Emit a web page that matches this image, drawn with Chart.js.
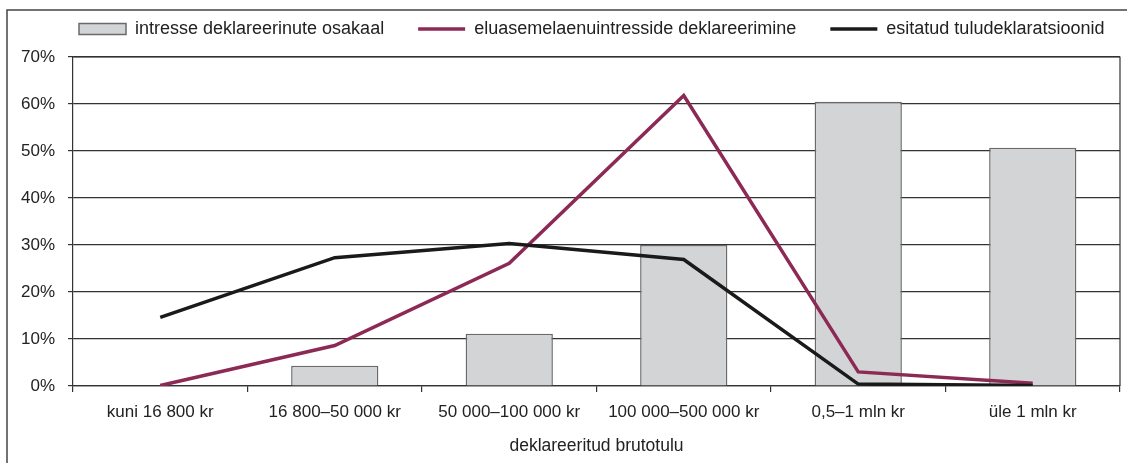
<!DOCTYPE html>
<html>
<head>
<meta charset="utf-8">
<script src="https://cdn.jsdelivr.net/npm/chart.js@4/dist/chart.umd.min.js"></script>
<style>
  html, body { margin: 0; padding: 0; background: #fff; }
  #wrap { width: 1127px; height: 463px; }
</style>
</head>
<body>
<div id="wrap"><canvas id="chart" width="1127" height="463"></canvas></div>
<script>
const categories = ['kuni 16 800 kr', '16 800–50 000 kr', '50 000–100 000 kr', '100 000–500 000 kr', '0,5–1 mln kr', 'üle 1 mln kr'];
const interestShare = [0, 4.3, 11.1, 30.0, 60.5, 50.7];
const mortgageDeclared = [0.1, 8.6, 26.1, 61.8, 3.0, 0.6];
const submittedReturns = [14.6, 27.3, 30.3, 26.9, 0.4, 0.1];
const yTicks = [0, 10, 20, 30, 40, 50, 60, 70];

const FONT = 'Arial, "Liberation Sans", sans-serif';
Chart.defaults.font.family = FONT;
Chart.defaults.font.size = 17;
Chart.defaults.color = '#222';

// frame around the picture + top/right border of plot area
const framePlugin = {
  id: 'frame',
  afterDraw(chart) {
    const ctx = chart.ctx;
    const a = chart.chartArea;
    ctx.save();
    ctx.strokeStyle = '#444';
    ctx.lineWidth = 1.5;
    ctx.beginPath();
    ctx.moveTo(7, 463);
    ctx.lineTo(7, 10);
    ctx.lineTo(1127, 10);
    ctx.stroke();
    ctx.lineWidth = 1.2;
    ctx.strokeStyle = '#333';
    ctx.beginPath();
    ctx.moveTo(a.left, a.top);
    ctx.lineTo(a.right, a.top);
    ctx.lineTo(a.right, a.bottom);
    ctx.stroke();
    ctx.restore();
  }
};

// fixed legend height, and legend row starting at x=79 like the original
const legendTweak = {
  id: 'legendTweak',
  beforeInit(chart) {
    const fit = chart.legend.fit;
    chart.legend.fit = function () {
      fit.bind(chart.legend)();
      this.height = 71;
    };
  },
  afterLayout(chart) {
    const lg = chart.legend;
    const pad = lg.options.labels.padding;
    const start = (lg.left + pad + lg.right - lg.lineWidths[0]) / 2;
    const shift = 79 - start;
    lg.left += shift;
    lg.right += shift;
  }
};

new Chart(document.getElementById('chart'), {
  type: 'bar',
  data: {
    labels: categories,
    datasets: [
      {
        label: 'intresse deklareerinute osakaal',
        data: interestShare,
        backgroundColor: '#d3d4d6',
        borderColor: '#6a6a6a',
        borderWidth: 1.5,
        categoryPercentage: 1,
        barPercentage: 0.5,
        pointStyle: 'rect',
        order: 2
      },
      {
        type: 'line',
        label: 'eluasemelaenuintresside deklareerimine',
        data: mortgageDeclared,
        borderColor: '#8c2a55',
        backgroundColor: '#8c2a55',
        borderWidth: 3.5,
        pointRadius: 0,
        tension: 0,
        pointStyle: 'line',
        order: 1
      },
      {
        type: 'line',
        label: 'esitatud tuludeklaratsioonid',
        data: submittedReturns,
        borderColor: '#1a1a1a',
        backgroundColor: '#1a1a1a',
        borderWidth: 3.5,
        pointRadius: 0,
        tension: 0,
        pointStyle: 'line',
        order: 0
      }
    ]
  },
  options: {
    responsive: false,
    animation: false,
    layout: { padding: { top: -14, right: 7, left: 0, bottom: 0 } },
    plugins: {
      legend: {
        position: 'top',
        labels: {
          usePointStyle: true,
          pointStyleWidth: 47,
          boxHeight: 11,
          padding: 34,
          color: '#222',
          font: { size: 18 },
          sort: (a, b) => a.datasetIndex - b.datasetIndex
        }
      },
      tooltip: { enabled: false }
    },
    scales: {
      x: {
        grid: { offset: true, drawOnChartArea: false, tickLength: 6, color: '#333', lineWidth: 1.2 },
        border: { color: '#333', width: 1.2 },
        ticks: { padding: 10, color: '#222', maxRotation: 0, font: { size: 17 } },
        title: { display: true, text: 'deklareeritud brutotulu', color: '#222', font: { size: 17.5 }, padding: { top: 4, bottom: 6 } },
        afterFit(scale) { scale.height = 77; }
      },
      y: {
        min: 0,
        max: 70,
        afterBuildTicks(scale) { scale.ticks = yTicks.map(v => ({ value: v })); },
        grid: { color: '#333', lineWidth: 1.2, tickLength: 5 },
        border: { color: '#333', width: 1.2 },
        ticks: { padding: 13, color: '#222', font: { size: 17 }, callback: v => v + '%' },
        afterFit(scale) { scale.width = 73; }
      }
    }
  },
  plugins: [framePlugin, legendTweak]
});
</script>
</body>
</html>
